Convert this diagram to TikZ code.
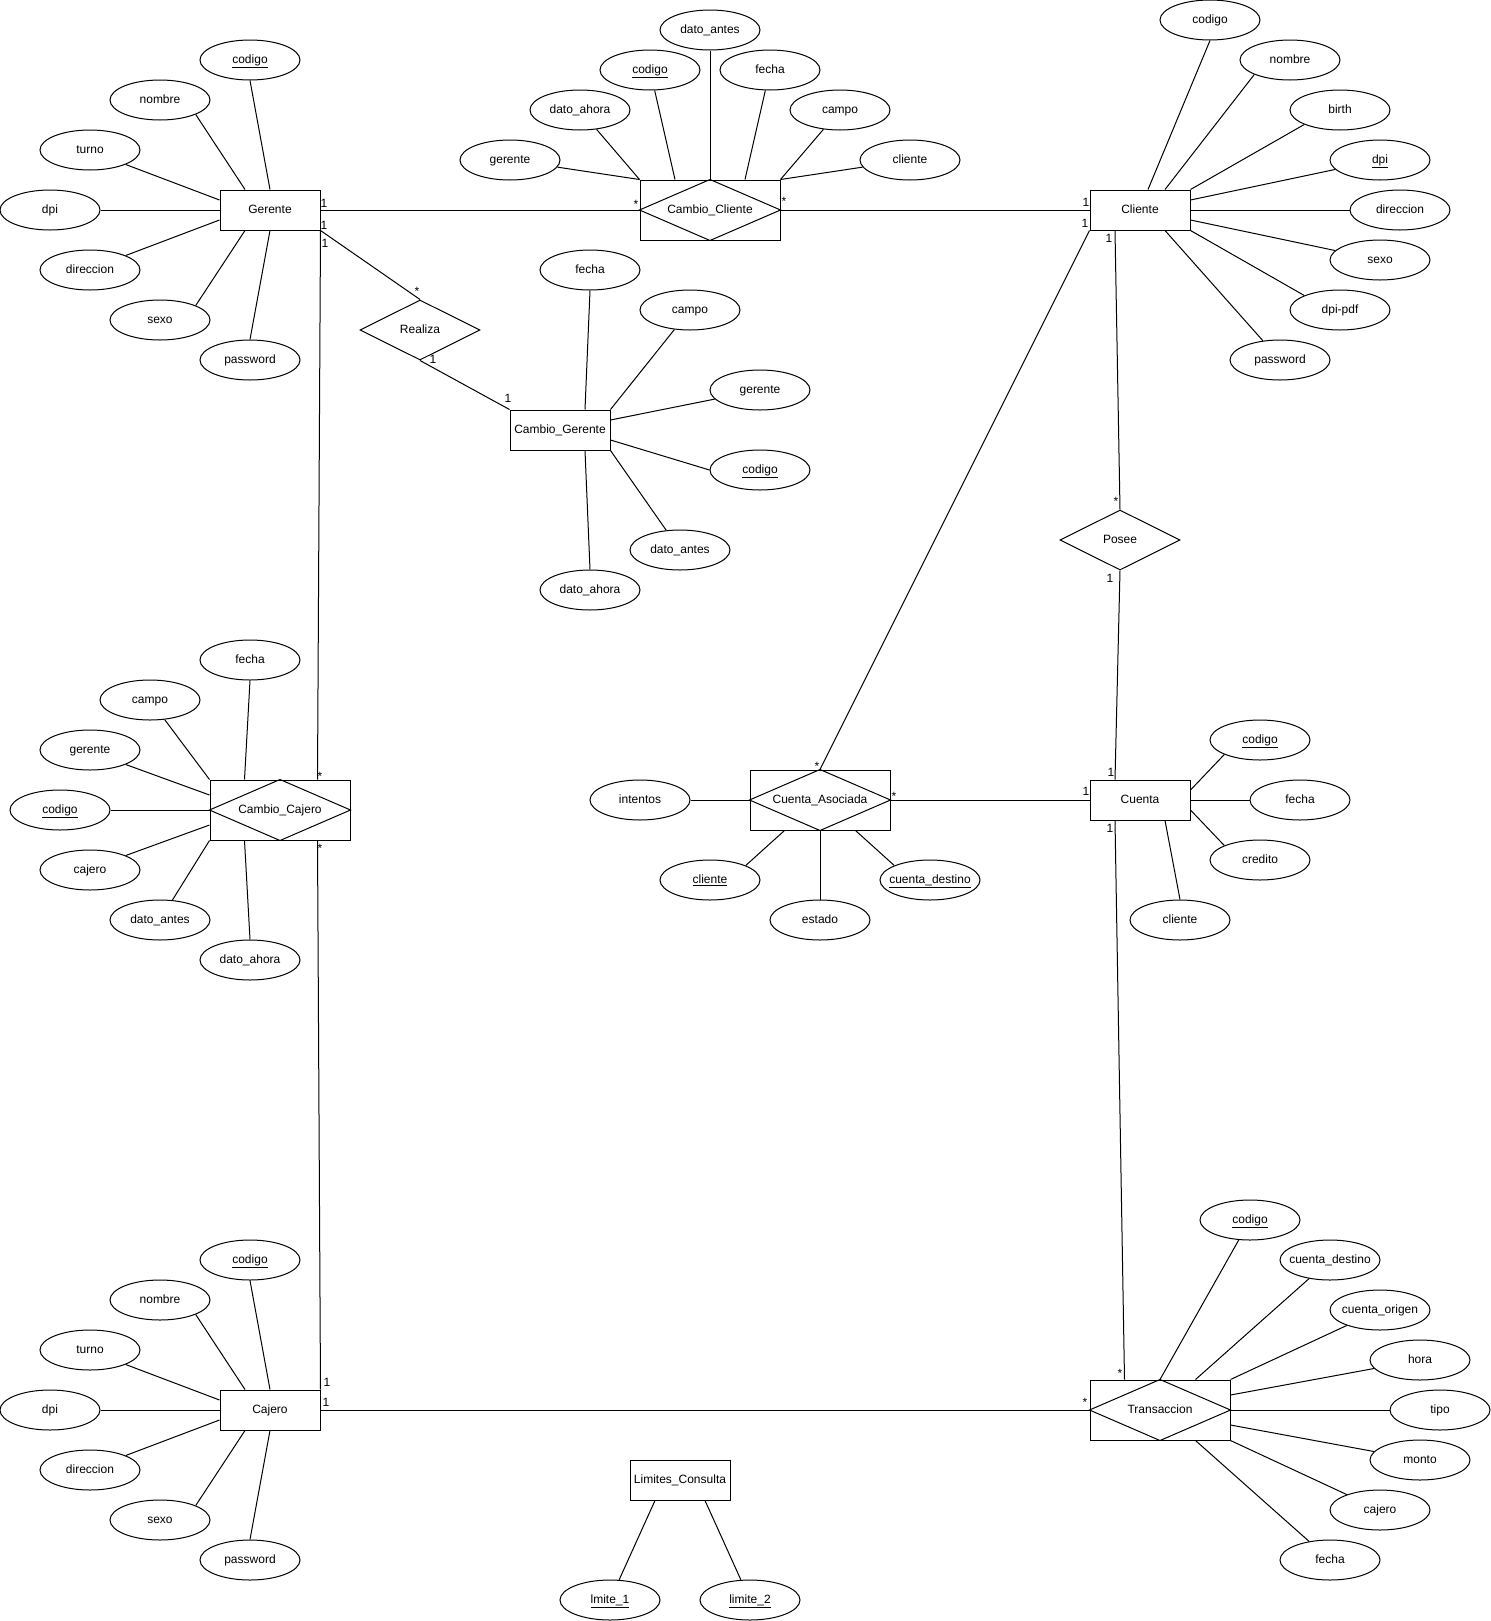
\documentclass[tikz,border=0pt]{standalone}
\usepackage{fontspec}
\setmainfont{Liberation Sans}
\usetikzlibrary{shapes.geometric,calc}
\newcommand{\zb}[1]{\makebox[0pt]{#1}}
\newcommand{\ul}[1]{\makebox[0pt]{\underline{#1}}}
\begin{document}
\begin{tikzpicture}[x=0.75pt,y=-0.75pt,line width=0.75pt,
  every node/.style={font=\fontsize{9}{11}\selectfont},
  ent/.style={draw,rectangle,minimum width=75pt,minimum height=30pt,inner sep=0pt,text height=6.8pt,text depth=2pt},
  attr/.style={draw,ellipse,minimum width=75pt,minimum height=30pt,inner sep=0pt,text height=6.8pt,text depth=2pt},
  rel/.style={draw,diamond,minimum width=90pt,minimum height=45pt,inner sep=0pt,text height=6.8pt,text depth=2pt},
  weak/.style={draw,rectangle,minimum width=105pt,minimum height=45pt,inner sep=0pt,text height=6.8pt,text depth=2pt},
  lbl/.style={inner sep=0pt,font=\fontsize{9}{10}\selectfont}]
\fill[white] (0,0) rectangle (1491,1621);
\useasboundingbox (0,0) rectangle (1491,1621);

% ---------- Gerente ----------
\node[ent] (G) at (270,210) {Gerente};
\node[attr] (gcod) at (250,60) {\ul{codigo}};
\node[attr] (gnom) at (160,100) {\zb{nombre}};
\node[attr] (gtur) at (90,150) {\zb{turno}};
\node[attr] (gdpi) at (50,210) {\zb{dpi}};
\node[attr] (gdir) at (90,270) {\zb{direccion}};
\node[attr] (gsex) at (160,320) {\zb{sexo}};
\node[attr] (gpas) at (250,360) {\zb{password}};
\draw (G.north) -- (gcod.south);
\draw ($(G.north)+(-25,0)$) -- (gnom.south east);
\draw ($(G.west)+(0,-10)$) -- (gtur.south east);
\draw (G.west) -- (gdpi.east);
\draw ($(G.west)+(0,10)$) -- (gdir.north east);
\draw ($(G.south)+(-25,0)$) -- (gsex.north east);
\draw (G.south) -- (gpas.north);

% ---------- Cajero ----------
\node[ent] (Ca) at (270,1410) {Cajero};
\node[attr] (kcod) at (250,1260) {\ul{codigo}};
\node[attr] (knom) at (160,1300) {\zb{nombre}};
\node[attr] (ktur) at (90,1350) {\zb{turno}};
\node[attr] (kdpi) at (50,1410) {\zb{dpi}};
\node[attr] (kdir) at (90,1470) {\zb{direccion}};
\node[attr] (ksex) at (160,1520) {\zb{sexo}};
\node[attr] (kpas) at (250,1560) {\zb{password}};
\draw (Ca.north) -- (kcod.south);
\draw ($(Ca.north)+(-25,0)$) -- (knom.south east);
\draw ($(Ca.west)+(0,-10)$) -- (ktur.south east);
\draw (Ca.west) -- (kdpi.east);
\draw ($(Ca.west)+(0,10)$) -- (kdir.north east);
\draw ($(Ca.south)+(-25,0)$) -- (ksex.north east);
\draw (Ca.south) -- (kpas.north);

% ---------- Cambio_Cliente ----------
\node[weak] (CC) at (710,210) {Cambio\_Cliente};
\draw (CC.west) -- (CC.north) -- (CC.east) -- (CC.south) -- cycle;
\node[attr] (ccdan) at (710,30) {\zb{dato\_antes}};
\node[attr] (cccod) at (650,70) {\ul{codigo}};
\node[attr] (ccfec) at (770,70) {\zb{fecha}};
\node[attr] (ccdah) at (580,110) {\zb{dato\_ahora}};
\node[attr] (cccam) at (840,110) {\zb{campo}};
\node[attr] (ccger) at (510,160) {\zb{gerente}};
\node[attr] (cccli) at (910,160) {\zb{cliente}};
\draw (CC.north west) -- (ccger);
\draw (CC.north west) -- (ccdah);
\draw ($(CC.north)+(-35,0)$) -- (cccod);
\draw (CC.north) -- (ccdan.south);
\draw ($(CC.north)+(35,0)$) -- (ccfec);
\draw (CC.north east) -- (cccam);
\draw (CC.north east) -- (cccli);

% ---------- Cliente ----------
\node[ent] (Cl) at (1140,210) {Cliente};
\node[attr] (clcod) at (1210,20) {\zb{codigo}};
\node[attr] (clnom) at (1290,60) {\zb{nombre}};
\node[attr] (clbir) at (1340,110) {\zb{birth}};
\node[attr] (cldpi) at (1380,160) {\ul{dpi}};
\node[attr] (cldir) at (1400,210) {\zb{direccion}};
\node[attr] (clsex) at (1380,260) {\zb{sexo}};
\node[attr] (clpdf) at (1340,310) {\zb{dpi-pdf}};
\node[attr] (clpas) at (1280,360) {\zb{password}};
\draw ($(Cl.north)+(8,0)$) -- (clcod.south);
\draw ($(Cl.north)+(25,0)$) -- (clnom.south west);
\draw (Cl.north east) -- (clbir.south west);
\draw ($(Cl.east)+(0,-10)$) -- (cldpi);
\draw (Cl.east) -- (cldir.west);
\draw ($(Cl.east)+(0,10)$) -- (clsex);
\draw (Cl.south east) -- (clpdf.north west);
\draw ($(Cl.south)+(25,0)$) -- (clpas);

% ---------- Realiza / Cambio_Gerente ----------
\node[rel] (R) at (420,330) {Realiza};
\node[ent] (CG) at (560,430) {Cambio\_Gerente};
\node[attr] (cgfec) at (590,270) {\zb{fecha}};
\node[attr] (cgcam) at (690,310) {\zb{campo}};
\node[attr] (cgger) at (760,390) {\zb{gerente}};
\node[attr] (cgcod) at (760,470) {\ul{codigo}};
\node[attr] (cgdan) at (680,550) {\zb{dato\_antes}};
\node[attr] (cgdah) at (590,590) {\zb{dato\_ahora}};
\draw ($(CG.north)+(25,0)$) -- (cgfec.south);
\draw (CG.north east) -- (cgcam);
\draw ($(CG.east)+(0,-10)$) -- (cgger);
\draw ($(CG.east)+(0,10)$) -- (cgcod.west);
\draw (CG.south east) -- (cgdan);
\draw ($(CG.south)+(25,0)$) -- (cgdah.north);

% ---------- Cambio_Cajero ----------
\node[weak] (CJ) at (280,810) {Cambio\_Cajero};
\draw (CJ.west) -- (CJ.north) -- (CJ.east) -- (CJ.south) -- cycle;
\node[attr] (cjfec) at (250,660) {\zb{fecha}};
\node[attr] (cjcam) at (150,700) {\zb{campo}};
\node[attr] (cjger) at (90,750) {\zb{gerente}};
\node[attr] (cjcod) at (60,810) {\ul{codigo}};
\node[attr] (cjcaj) at (90,870) {\zb{cajero}};
\node[attr] (cjdan) at (160,920) {\zb{dato\_antes}};
\node[attr] (cjdah) at (250,960) {\zb{dato\_ahora}};
\draw ($(CJ.north west)+(35,0)$) -- (cjfec.south);
\draw (CJ.north west) -- (cjcam);
\draw ($(CJ.west)+(0,-15)$) -- (cjger.south east);
\draw (CJ.west) -- (cjcod.east);
\draw ($(CJ.west)+(0,15)$) -- (cjcaj.north east);
\draw (CJ.south west) -- (cjdan);
\draw ($(CJ.south west)+(35,0)$) -- (cjdah.north);

% ---------- Cuenta_Asociada ----------
\node[weak] (CA) at (820,800) {Cuenta\_Asociada};
\draw (CA.west) -- (CA.north) -- (CA.east) -- (CA.south) -- cycle;
\node[attr] (caint) at (640,800) {\zb{intentos}};
\node[attr] (cacli) at (710,880) {\ul{cliente}};
\node[attr] (caest) at (820,920) {\zb{estado}};
\node[attr] (cades) at (930,880) {\ul{cuenta\_destino}};
\draw (CA.west) -- (caint.east);
\draw ($(CA.south west)+(35,0)$) -- (cacli.north east);
\draw (CA.south) -- (caest.north);
\draw ($(CA.south east)+(-35,0)$) -- (cades.north west);

% ---------- Posee / Cuenta ----------
\node[rel] (P) at (1120,540) {Posee};
\node[ent] (Cu) at (1140,800) {Cuenta};
\node[attr] (cucod) at (1260,740) {\ul{codigo}};
\node[attr] (cufec) at (1300,800) {\zb{fecha}};
\node[attr] (cucre) at (1260,860) {\zb{credito}};
\node[attr] (cucli) at (1180,920) {\zb{cliente}};
\draw ($(Cu.east)+(0,-10)$) -- (cucod.south west);
\draw (Cu.east) -- (cufec.west);
\draw ($(Cu.east)+(0,10)$) -- (cucre.north west);
\draw ($(Cu.south)+(25,0)$) -- (cucli.north);

% ---------- Transaccion ----------
\node[weak] (T) at (1160,1410) {Transaccion};
\draw (T.west) -- (T.north) -- (T.east) -- (T.south) -- cycle;
\node[attr] (tcod) at (1250,1220) {\ul{codigo}};
\node[attr] (tcde) at (1330,1260) {\zb{cuenta\_destino}};
\node[attr] (tcor) at (1380,1310) {\zb{cuenta\_origen}};
\node[attr] (thor) at (1420,1360) {\zb{hora}};
\node[attr] (ttip) at (1440,1410) {\zb{tipo}};
\node[attr] (tmon) at (1420,1460) {\zb{monto}};
\node[attr] (tcaj) at (1380,1510) {\zb{cajero}};
\node[attr] (tfec) at (1330,1560) {\zb{fecha}};
\draw (T.north) -- (tcod);
\draw ($(T.north east)+(-35,0)$) -- (tcde);
\draw (T.north east) -- (tcor);
\draw ($(T.east)+(0,-15)$) -- (thor);
\draw (T.east) -- (ttip.west);
\draw ($(T.east)+(0,15)$) -- (tmon);
\draw (T.south east) -- (tcaj);
\draw ($(T.south east)+(-35,0)$) -- (tfec);

% ---------- Limites_Consulta ----------
\node[ent] (L) at (680,1480) {Limites\_Consulta};
\node[attr] (lim1) at (610,1600) {\ul{lmite\_1}};
\node[attr] (lim2) at (750,1600) {\ul{limite\_2}};
\draw ($(L.south)+(-25,0)$) -- (lim1);
\draw ($(L.south)+(25,0)$) -- (lim2);

% ---------- relationships ----------
\draw (G.east) -- (CC.west);
\draw (G.south east) -- (R.north);
\draw (R.south) -- (CG.north west);
\draw (G.south east) -- ($(CJ.north east)+(-33,0)$);
\draw ($(CJ.south east)+(-33,0)$) -- (Ca.north east);
\draw (CC.east) -- (Cl.west);
\draw (Cl.south west) -- (CA.north);
\draw ($(Cl.south)+(-25,0)$) -- (P.north);
\draw (P.south) -- ($(Cu.north)+(-25,0)$);
\draw (CA.east) -- (Cu.west);
\draw ($(Cu.south)+(-25,0)$) -- ($(T.north west)+(35,0)$);
\draw (Ca.east) -- (T.west);

% ---------- multiplicities ----------
\node[lbl] (m1) at (324,203) {1};
\node[lbl] (m2) at (636,204) {*};
\node[lbl] (m3) at (324,225) {1};
\node[lbl] (m4) at (417,291) {*};
\node[lbl] (m5) at (325,243) {1};
\node[lbl] (m6) at (320,776) {*};
\node[lbl] (m7) at (433,359) {1};
\node[lbl] (m8) at (508,398) {1};
\node[lbl] (m9) at (784,201) {*};
\node[lbl] (m10) at (1086,202) {1};
\node[lbl] (m11) at (1085,223) {1};
\node[lbl] (m12) at (817,766) {*};
\node[lbl] (m13) at (1109,238) {1};
\node[lbl] (m14) at (1116,501) {*};
\node[lbl] (m15) at (1110,578) {1};
\node[lbl] (m16) at (1111,772) {1};
\node[lbl] (m17) at (894,796) {*};
\node[lbl] (m18) at (1086,791) {1};
\node[lbl] (m19) at (1110,828) {1};
\node[lbl] (m20) at (1120,1373) {*};
\node[lbl] (m21) at (320,848) {*};
\node[lbl] (m22) at (327,1382) {1};
\node[lbl] (m23) at (326,1402) {1};
\node[lbl] (m24) at (1085,1402) {*};
\end{tikzpicture}
\end{document}
